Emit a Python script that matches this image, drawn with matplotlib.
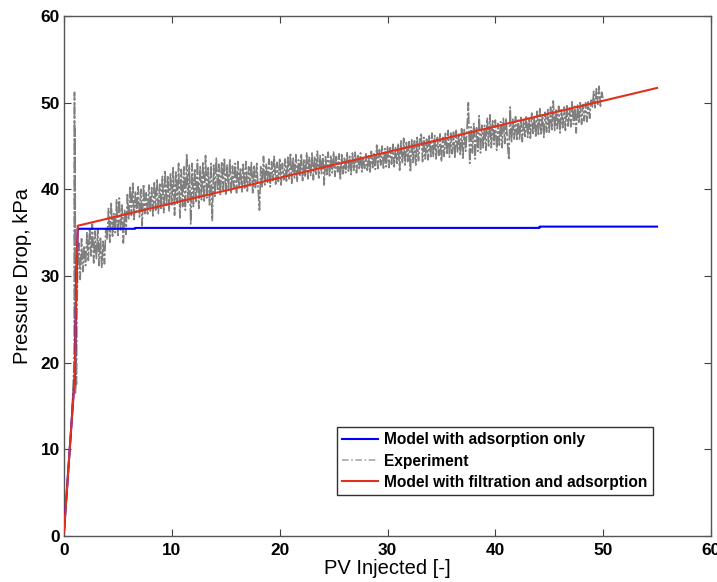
import matplotlib
matplotlib.use('Agg')
import matplotlib.pyplot as plt

# model curves (PV injected, pressure drop in kPa)
ads_x = [0.0, 1.0, 1.15, 1.27, 6.6, 6.6, 44.1, 44.1, 55.0]
ads_y = [0.5, 18.5, 30.0, 35.45, 35.45, 35.55, 35.55, 35.7, 35.7]

filt_x = [0.0, 1.0, 1.15, 1.27, 55.0]
filt_y = [0.5, 18.5, 30.0, 35.8, 51.7]

# experiment (upper/lower swings)
exp_x = [0.0, 0.1, 0.2, 0.35, 0.5, 0.65, 0.8, 0.9, 0.95, 0.97, 1.0, 1.03, 1.06, 1.1, 1.15, 1.2,
         1.25, 1.375, 1.5, 1.625, 1.75, 1.875,
         2.0, 2.125, 2.25, 2.375, 2.5, 2.625, 2.75, 2.875,
         3.0, 3.125, 3.25, 3.375, 3.5, 3.625, 3.75, 3.875,
         4.0, 4.125, 4.25, 4.375, 4.5, 4.625, 4.75, 4.875,
         5.0, 5.125, 5.25, 5.375, 5.5, 5.625, 5.75, 5.875,
         6.0, 6.125, 6.25, 6.375, 6.5, 6.625, 6.75, 6.875,
         7.0, 7.125, 7.25, 7.375, 7.5, 7.625, 7.75, 7.875,
         8.0, 8.125, 8.25, 8.375, 8.5, 8.625, 8.75, 8.875,
         9.0, 9.125, 9.25, 9.375, 9.5, 9.625, 9.75, 9.875,
         10.0, 10.125, 10.25, 10.375, 10.5, 10.625, 10.75, 10.875,
         11.0, 11.125, 11.25, 11.375, 11.5, 11.625, 11.75, 11.875,
         12.0, 12.125, 12.25, 12.375, 12.5, 12.625, 12.75, 12.875,
         13.0, 13.125, 13.25, 13.375, 13.5, 13.625, 13.75, 13.875,
         14.0, 14.125, 14.25, 14.375, 14.5, 14.625, 14.75, 14.875,
         15.0, 15.125, 15.25, 15.375, 15.5, 15.625, 15.75, 15.875,
         16.0, 16.125, 16.25, 16.375, 16.5, 16.625, 16.75, 16.875,
         17.0, 17.125, 17.25, 17.375, 17.5, 17.625, 17.75, 17.875,
         18.0, 18.125, 18.25, 18.375, 18.5, 18.625, 18.75, 18.875,
         19.0, 19.125, 19.25, 19.375, 19.5, 19.625, 19.75, 19.875,
         20.0, 20.125, 20.25, 20.375, 20.5, 20.625, 20.75, 20.875,
         21.0, 21.125, 21.25, 21.375, 21.5, 21.625, 21.75, 21.875,
         22.0, 22.125, 22.25, 22.375, 22.5, 22.625, 22.75, 22.875,
         23.0, 23.125, 23.25, 23.375, 23.5, 23.625, 23.75, 23.875,
         24.0, 24.125, 24.25, 24.375, 24.5, 24.625, 24.75, 24.875,
         25.0, 25.125, 25.25, 25.375, 25.5, 25.625, 25.75, 25.875,
         26.0, 26.125, 26.25, 26.375, 26.5, 26.625, 26.75, 26.875,
         27.0, 27.125, 27.25, 27.375, 27.5, 27.625, 27.75, 27.875,
         28.0, 28.125, 28.25, 28.375, 28.5, 28.625, 28.75, 28.875,
         29.0, 29.125, 29.25, 29.375, 29.5, 29.625, 29.75, 29.875,
         30.0, 30.125, 30.25, 30.375, 30.5, 30.625, 30.75, 30.875,
         31.0, 31.125, 31.25, 31.375, 31.5, 31.625, 31.75, 31.875,
         32.0, 32.125, 32.25, 32.375, 32.5, 32.625, 32.75, 32.875,
         33.0, 33.125, 33.25, 33.375, 33.5, 33.625, 33.75, 33.875,
         34.0, 34.125, 34.25, 34.375, 34.5, 34.625, 34.75, 34.875,
         35.0, 35.125, 35.25, 35.375, 35.5, 35.625, 35.75, 35.875,
         36.0, 36.125, 36.25, 36.375, 36.5, 36.625, 36.75, 36.875,
         37.0, 37.125, 37.25, 37.375, 37.5, 37.625, 37.75, 37.875,
         38.0, 38.125, 38.25, 38.375, 38.5, 38.625, 38.75, 38.875,
         39.0, 39.125, 39.25, 39.375, 39.5, 39.625, 39.75, 39.875,
         40.0, 40.125, 40.25, 40.375, 40.5, 40.625, 40.75, 40.875,
         41.0, 41.125, 41.25, 41.375, 41.5, 41.625, 41.75, 41.875,
         42.0, 42.125, 42.25, 42.375, 42.5, 42.625, 42.75, 42.875,
         43.0, 43.125, 43.25, 43.375, 43.5, 43.625, 43.75, 43.875,
         44.0, 44.125, 44.25, 44.375, 44.5, 44.625, 44.75, 44.875,
         45.0, 45.125, 45.25, 45.375, 45.5, 45.625, 45.75, 45.875,
         46.0, 46.125, 46.25, 46.375, 46.5, 46.625, 46.75, 46.875,
         47.0, 47.125, 47.25, 47.375, 47.5, 47.625, 47.75, 47.875,
         48.0, 48.125, 48.25, 48.375, 48.5, 48.625, 48.75, 48.875,
         49.0, 49.125, 49.25, 49.375, 49.5, 49.625, 49.75, 49.875,
         50.0]
exp_y = [0.0, 2.8, 4.0, 6.5, 9.5, 12.0, 16.0, 19.0, 22.0, 51.2, 20.0, 47.0, 16.5, 24.0, 17.5, 26.0,
         30.0, 33.8, 29.6, 34.3, 30.5, 33.5,
         31.2, 35.0, 31.8, 35.6, 32.3, 36.0, 31.5, 35.2,
         32.0, 35.4, 31.2, 34.5, 31.0, 34.0, 31.4, 35.5,
         34.2, 37.8, 33.9, 38.5, 34.6, 37.2, 35.0, 38.8,
         34.5, 39.0, 35.2, 38.2, 33.8, 37.6, 34.8, 39.4,
         36.6, 40.4, 37.0, 40.7, 36.5, 39.8, 37.4, 40.3,
         36.8, 40.0, 35.8, 40.6, 37.2, 39.6, 37.0, 40.5,
         37.5, 40.2, 36.8, 40.9, 37.6, 41.2, 37.2, 40.6,
         37.8, 41.5, 37.3, 42.2, 38.0, 41.6, 37.5, 41.9,
         38.2, 42.5, 37.0, 42.0, 38.4, 43.0, 36.7, 42.3,
         38.0, 42.6, 37.6, 44.1, 38.5, 42.8, 36.0, 43.0,
         38.0, 42.4, 38.6, 43.4, 37.8, 42.6, 38.8, 43.2,
         38.5, 43.9, 39.0, 42.5, 38.2, 43.0, 36.4, 42.8,
         39.2, 43.6, 39.8, 42.9, 39.4, 43.2, 40.0, 43.6,
         39.3, 42.8, 39.9, 43.5, 39.5, 42.7, 40.1, 43.0,
         39.6, 43.2, 40.2, 42.5, 39.7, 42.9, 40.0, 43.2,
         39.8, 42.6, 40.4, 43.1, 39.6, 42.8, 40.2, 43.0,
         40.0, 37.6, 42.6, 40.3, 43.8, 40.5, 42.9, 40.8,
         43.5, 40.3, 43.2, 41.0, 43.8, 40.6, 43.1, 40.9,
         43.6, 40.5, 43.0, 41.1, 43.5, 40.8, 43.7, 41.2,
         44.2, 40.7, 43.6, 41.3, 44.0, 40.9, 43.4, 41.5,
         44.1, 41.0, 43.5, 41.4, 44.2, 41.2, 43.7, 41.6,
         44.2, 41.1, 43.8, 41.6, 44.4, 41.3, 43.9, 41.8,
         44.0, 40.5, 43.8, 41.7, 44.3, 41.4, 43.9, 41.9,
         44.3, 41.5, 43.8, 42.0, 44.1, 41.1, 44.0, 41.8,
         43.6, 41.9, 44.3, 42.1, 43.8, 41.7, 44.2, 42.2,
         44.3, 41.9, 43.9, 42.3, 44.2, 42.0, 43.8, 42.4,
         44.1, 42.2, 44.0, 41.9, 44.4, 42.5, 44.2, 42.3,
         45.1, 42.4, 44.6, 42.8, 45.0, 42.3, 44.7, 42.6,
         45.0, 42.5, 44.8, 42.9, 45.2, 42.6, 44.9, 43.0,
         45.3, 42.2, 45.6, 43.0, 45.9, 42.8, 45.4, 43.2,
         45.5, 42.0, 45.8, 43.1, 45.6, 42.8, 46.0, 43.3,
         45.7, 46.5, 43.2, 46.0, 43.5, 45.8, 43.4, 46.3,
         43.6, 46.5, 43.8, 46.2, 43.5, 46.0, 43.9, 46.4,
         43.2, 46.0, 43.8, 46.6, 44.0, 46.8, 43.7, 46.5,
         44.1, 46.6, 43.6, 46.8, 44.3, 46.5, 43.9, 47.0,
         43.6, 46.9, 44.4, 47.0, 50.0, 43.0, 47.2, 44.2,
         47.6, 43.5, 47.1, 44.4, 48.5, 44.2, 47.4, 44.8,
         47.4, 44.5, 48.2, 45.0, 48.6, 44.8, 47.9, 45.2,
         48.0, 44.5, 47.6, 45.1, 47.8, 44.8, 48.2, 45.3,
         48.2, 45.4, 43.4, 49.5, 45.5, 48.1, 45.8, 48.4,
         45.6, 48.0, 45.8, 48.3, 45.5, 48.0, 46.1, 48.5,
         46.0, 48.3, 45.9, 48.8, 46.3, 48.5, 46.0, 49.0,
         46.2, 49.3, 46.4, 48.6, 46.0, 48.9, 46.6, 49.2,
         46.5, 49.5, 46.9, 50.2, 46.8, 49.3, 47.0, 49.6,
         46.5, 49.2, 47.1, 49.5, 46.8, 49.8, 47.3, 49.4,
         47.2, 50.1, 47.5, 49.6, 46.5, 49.8, 47.6, 50.0,
         47.5, 49.8, 47.9, 50.0, 47.8, 50.1, 48.2, 50.3,
         49.5, 51.3, 49.4, 51.6, 49.8, 51.9, 49.6, 51.2,
         50.4]

plt.rcParams['font.family'] = ['Liberation Sans', 'DejaVu Sans']

fig = plt.figure(figsize=(7.17, 5.82), dpi=100)
ax = fig.add_axes([0.0893, 0.079, 0.9023, 0.8935])

l_ads, = ax.plot(ads_x, ads_y, color='#0000ff', lw=1.5, zorder=3,
                 label='Model with adsorption only')
l_exp, = ax.plot(exp_x, exp_y, color='#7f7f7f', lw=1.2, zorder=2,
                 dashes=(7, 1.2, 1.5, 1.2), label='Experiment')
l_filt, = ax.plot(filt_x, filt_y, color='#e0301e', lw=1.5, zorder=4,
                  label='Model with filtration and adsorption')

ax.set_xlim(0, 60)
ax.set_ylim(0, 60)
ax.set_xticks(range(0, 61, 10))
ax.set_yticks(range(0, 61, 10))
ax.tick_params(direction='in', top=True, right=True, length=5, width=0.8,
               color='#404040', labelsize=12.4)
ax.tick_params(axis='x', pad=5)
ax.tick_params(axis='y', pad=3)
for lab in ax.get_xticklabels() + ax.get_yticklabels():
    lab.set_fontweight('bold')
for s in ax.spines.values():
    s.set_color('#555555')
    s.set_linewidth(1.0)

ax.set_xlabel('PV Injected [-]', fontsize=14.5, labelpad=1)
ax.set_ylabel('Pressure Drop, kPa', fontsize=14.5, labelpad=6)

leg = ax.legend(handles=[l_ads, l_exp, l_filt], loc='upper left',
                bbox_to_anchor=(0.422, 0.2096), borderaxespad=0,
                prop={'weight': 'bold', 'size': 11.2}, fancybox=False,
                edgecolor='#303030', framealpha=1, handlelength=2.3,
                handletextpad=0.35, labelspacing=0.4, borderpad=0.35)
leg.get_frame().set_linewidth(1.0)
leg.get_lines()[1].set_dashes((4, 1.5, 1, 1.5))
leg.get_lines()[1].set_color('#a8a8a8')

fig.savefig('out.png', dpi=100)
